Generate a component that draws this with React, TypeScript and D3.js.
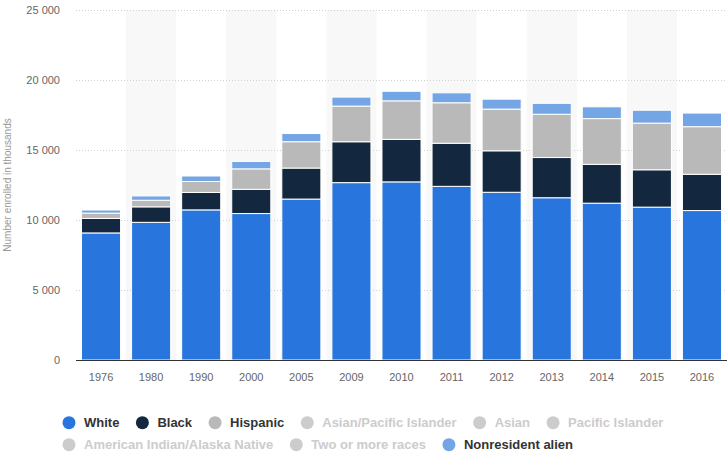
import React from "react";
import * as d3 from "d3";

const years = ["1976","1980","1990","2000","2005","2009","2010","2011","2012","2013","2014","2015","2016"];
const white = [9076, 9833, 10722, 10462, 11495, 12669, 12723, 12404, 11981, 11590, 11201, 10919, 10675];
const black = [1033, 1107, 1247, 1730, 2215, 2920, 3039, 3079, 2962, 2872, 2776, 2667, 2593];
const hispanic = [384, 472, 782, 1462, 1882, 2547, 2749, 2891, 2979, 3091, 3265, 3335, 3397];
const nonresident = [219, 305, 391, 529, 585, 643, 684, 710, 708, 781, 841, 919, 973];
const yTicks = [0, 5000, 10000, 15000, 20000, 25000];

const seriesNames = ["White", "Black", "Hispanic", "Nonresident alien"];
const seriesColors = ["#2876dd", "#13283e", "#b9b9b9", "#74a5e4"];

const legendRow1 = [
  { name: "White", color: "#2876dd", active: true },
  { name: "Black", color: "#13283e", active: true },
  { name: "Hispanic", color: "#b9b9b9", active: true },
  { name: "Asian/Pacific Islander", color: "#cccccc", active: false },
  { name: "Asian", color: "#cccccc", active: false },
  { name: "Pacific Islander", color: "#cccccc", active: false },
];
const legendRow2 = [
  { name: "American Indian/Alaska Native", color: "#cccccc", active: false },
  { name: "Two or more races", color: "#cccccc", active: false },
  { name: "Nonresident alien", color: "#74a5e4", active: true },
];

const W = 727, H = 456;
const left = 76, right = 727, top = 10, bottom = 360;
const FONT = "'Liberation Sans', Arial, sans-serif";

function measure(text: string, font: string) {
  if (typeof document === "undefined") return text.length * 7;
  const c = document.createElement("canvas");
  const ctx = c.getContext("2d")!;
  ctx.font = font;
  return ctx.measureText(text).width;
}

export default function App() {
  const x = d3.scaleBand<string>().domain(years).range([left, right]).paddingInner(0.22).paddingOuter(0.11);
  const xb = d3.scaleBand<string>().domain(years).range([left, right]);
  const y = d3.scaleLinear().domain([0, 25000]).range([bottom, top]);

  const rows = years.map((yr, i) => ({ year: yr, White: white[i], Black: black[i], Hispanic: hispanic[i], "Nonresident alien": nonresident[i] }));
  const stack = d3.stack<any>().keys(seriesNames)(rows);

  const legendFont = `bold 13px ${FONT}`;
  const layoutRow = (items: any[]) => {
    let cx = 62.5;
    return items.map((it) => {
      const w = measure(it.name, legendFont);
      const pos = { ...it, cx: cx + 6.5, tx: cx + 21.5, w };
      cx = cx + 21.5 + w + 16.5;
      return pos;
    });
  };
  const r1 = layoutRow(legendRow1);
  const r2 = layoutRow(legendRow2);

  return (
    <svg width={W} height={H} style={{ position: "absolute", left: 0, top: 0, background: "#fff" }} fontFamily={FONT}>
      {years.map((yr, i) => i % 2 === 1 ? (
        <rect key={yr} x={xb(yr)!} y={top} width={xb.bandwidth()} height={bottom - top} fill="#f8f8f8" />
      ) : null)}
      {yTicks.filter(t => t > 0).map(t => (
        <line key={t} x1={left} x2={right} y1={y(t) + 0.5} y2={y(t) + 0.5} stroke="#d0d0d0" strokeDasharray="1,2" />
      ))}
      {yTicks.map(t => (
        <text key={t} x={60} y={y(t)} dy="0.35em" textAnchor="end" fontSize={11} fill="#666">
          {d3.format(",")(t).replace(/,/g, " ")}
        </text>
      ))}
      <text transform={`translate(11,185) rotate(-90)`} textAnchor="middle" fontSize={10} fill="#999">Number enrolled in thousands</text>
      {stack.map((s, si) => (
        <g key={s.key} fill={seriesColors[si]}>
          {s.map((d, i) => (
            <rect key={i} x={x(years[i])!} y={y(d[1])} width={x.bandwidth()} height={y(d[0]) - y(d[1])} stroke="#fff" strokeWidth={1} />
          ))}
        </g>
      ))}
      <line x1={left} x2={right} y1={bottom + 0.5} y2={bottom + 0.5} stroke="#333" strokeWidth={1} />
      {years.map(yr => (
        <text key={yr} x={x(yr)! + x.bandwidth() / 2} y={381} textAnchor="middle" fontSize={11} fill="#666">{yr}</text>
      ))}
      {[{ items: r1, cy: 422.7 }, { items: r2, cy: 444.7 }].map((row, ri) => (
        <g key={ri}>
          {row.items.map((it: any) => (
            <g key={it.name}>
              <circle cx={it.cx} cy={row.cy} r={6.5} fill={it.color} />
              <text x={it.tx} y={row.cy} dy="0.35em" fontSize={13} fontWeight="bold" fill={it.active ? "#333" : "#cccccc"}>{it.name}</text>
            </g>
          ))}
        </g>
      ))}
    </svg>
  );
}
